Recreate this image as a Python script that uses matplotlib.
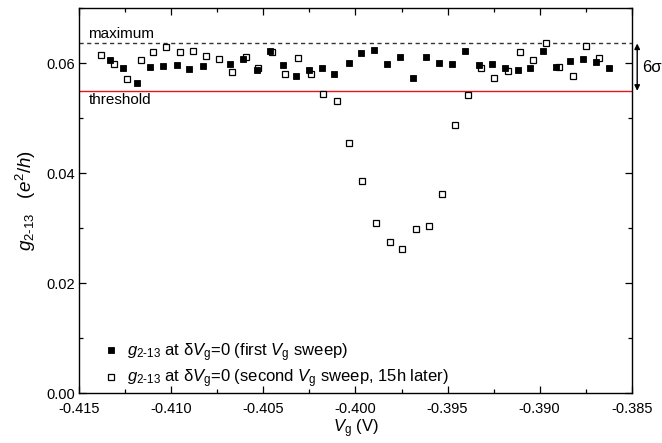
import matplotlib
matplotlib.use("Agg")
import matplotlib.pyplot as plt
from matplotlib.ticker import MultipleLocator, FormatStrFormatter

plt.rcParams['font.family'] = ['Liberation Sans', 'DejaVu Sans']
plt.rcParams['mathtext.fontset'] = 'custom'
plt.rcParams['mathtext.rm'] = 'Liberation Sans'
plt.rcParams['mathtext.it'] = 'Liberation Sans:italic'
plt.rcParams['mathtext.bf'] = 'Liberation Sans:bold'

# first sweep (filled squares)
vg_first = [-0.41333, -0.41261, -0.41188, -0.41116, -0.41044, -0.40971, -0.40903, -0.40830,
            -0.40682, -0.40609, -0.40537, -0.40464, -0.40392, -0.40323, -0.40251, -0.40184,
            -0.40115, -0.40035, -0.39970, -0.39900, -0.39831, -0.39758, -0.39686, -0.39617,
            -0.39546, -0.39478, -0.39405, -0.39329, -0.39260, -0.39188, -0.39119, -0.39052,
            -0.38980, -0.38911, -0.38835, -0.38766, -0.38694, -0.38623]
g_first = [0.0606, 0.0591, 0.0564, 0.0594, 0.0595, 0.0597, 0.0589, 0.0595,
           0.0598, 0.0607, 0.0588, 0.0622, 0.0597, 0.0577, 0.0588, 0.0591,
           0.0581, 0.0601, 0.0618, 0.0624, 0.0598, 0.0611, 0.0574, 0.0612,
           0.0601, 0.0599, 0.0622, 0.0597, 0.0598, 0.0591, 0.0588, 0.0592,
           0.0622, 0.0594, 0.0605, 0.0608, 0.0602, 0.0591]

# second sweep, 15h later (open squares)
vg_second = [-0.41384, -0.41312, -0.41243, -0.41167, -0.41098, -0.41029, -0.40953, -0.40881,
             -0.40812, -0.40741, -0.40669, -0.40596, -0.40528, -0.40455, -0.40383, -0.40314,
             -0.40242, -0.40175, -0.40102, -0.40034, -0.39963, -0.39890, -0.39813, -0.39746,
             -0.39673, -0.39601, -0.39529, -0.39458, -0.39387, -0.39318, -0.39246, -0.39173,
             -0.39107, -0.39034, -0.38965, -0.38895, -0.38820, -0.38748, -0.38676]
g_second = [0.0615, 0.0598, 0.0571, 0.0606, 0.0621, 0.0630, 0.0620, 0.0622,
            0.0614, 0.0608, 0.0585, 0.0612, 0.0592, 0.0621, 0.0581, 0.0609,
            0.0581, 0.0545, 0.0532, 0.0455, 0.0386, 0.0309, 0.0275, 0.0262,
            0.0299, 0.0305, 0.0363, 0.0488, 0.0542, 0.0591, 0.0573, 0.0586,
            0.0620, 0.0606, 0.0637, 0.0594, 0.0577, 0.0631, 0.0609]

g_maximum = 0.0636
g_threshold = 0.0550

fig = plt.figure(figsize=(6.62, 4.43), dpi=100)
ax = fig.add_axes([0.1198, 0.1122, 0.8344, 0.8691])

ax.axhline(g_maximum, color='#333333', lw=1.0, ls=(0, (3, 2.5)), zorder=1)
ax.axhline(g_threshold, color='#e8141b', lw=1.0, zorder=1)

ax.plot(vg_first, g_first, ls='none', marker='s', ms=4.6, mfc='black', mec='black',
        mew=0.6, label=r'$g_{\mathrm{2\text{-}13}}$ at δ$V_{\mathrm{g}}$=0 (first $V_{\mathrm{g}}$ sweep)',
        zorder=3)
ax.plot(vg_second, g_second, ls='none', marker='s', ms=4.4, mfc='white', mec='black',
        mew=0.9, label=r'$g_{\mathrm{2\text{-}13}}$ at δ$V_{\mathrm{g}}$=0 (second $V_{\mathrm{g}}$ sweep, 15h later)',
        zorder=2)

ax.set_xlim(-0.415, -0.385)
ax.set_ylim(0.0, 0.07)
ax.xaxis.set_major_locator(MultipleLocator(0.005))
ax.xaxis.set_minor_locator(MultipleLocator(0.0025))
ax.yaxis.set_major_locator(MultipleLocator(0.02))
ax.yaxis.set_minor_locator(MultipleLocator(0.01))
ax.xaxis.set_major_formatter(FormatStrFormatter('%.3f'))
ax.yaxis.set_major_formatter(FormatStrFormatter('%.2f'))
ax.tick_params(which='both', direction='in', top=True, right=True, labelsize=10.5, width=0.9)
ax.tick_params(which='major', length=5)
ax.tick_params(which='minor', length=3)
ax.tick_params(axis='x', which='major', pad=6)
ax.tick_params(axis='y', which='major', pad=3)
for s in ax.spines.values():
    s.set_linewidth(1.0)

ax.set_xlabel(r'$V_{\mathrm{g}}$ (V)', fontsize=12, labelpad=1)
ax.set_ylabel(r'$g_{\mathrm{2\text{-}13}}$   ($e^{2}/h$)', fontsize=13.5, labelpad=6)

ax.text(-0.4145, g_maximum + 0.0004, 'maximum', fontsize=11, ha='left', va='bottom')
ax.text(-0.4145, g_threshold - 0.0004, 'threshold', fontsize=11, ha='left', va='top')

trans = ax.get_yaxis_transform()
ax.annotate('', xy=(1.010, g_maximum), xytext=(1.010, g_threshold), xycoords=trans,
            textcoords=trans, annotation_clip=False,
            arrowprops=dict(arrowstyle='<|-|>', color='black', lw=1.0,
                            mutation_scale=8, shrinkA=0, shrinkB=0))
ax.text(1.019, (g_maximum + g_threshold) / 2, '6σ', transform=trans, fontsize=12,
        ha='left', va='center', clip_on=False)

leg = ax.legend(loc='lower left', bbox_to_anchor=(0.035, -0.01), frameon=False, fontsize=12,
                handlelength=0.7, handletextpad=0.6, labelspacing=0.25, borderaxespad=0)

fig.savefig('out.png', dpi=100)
